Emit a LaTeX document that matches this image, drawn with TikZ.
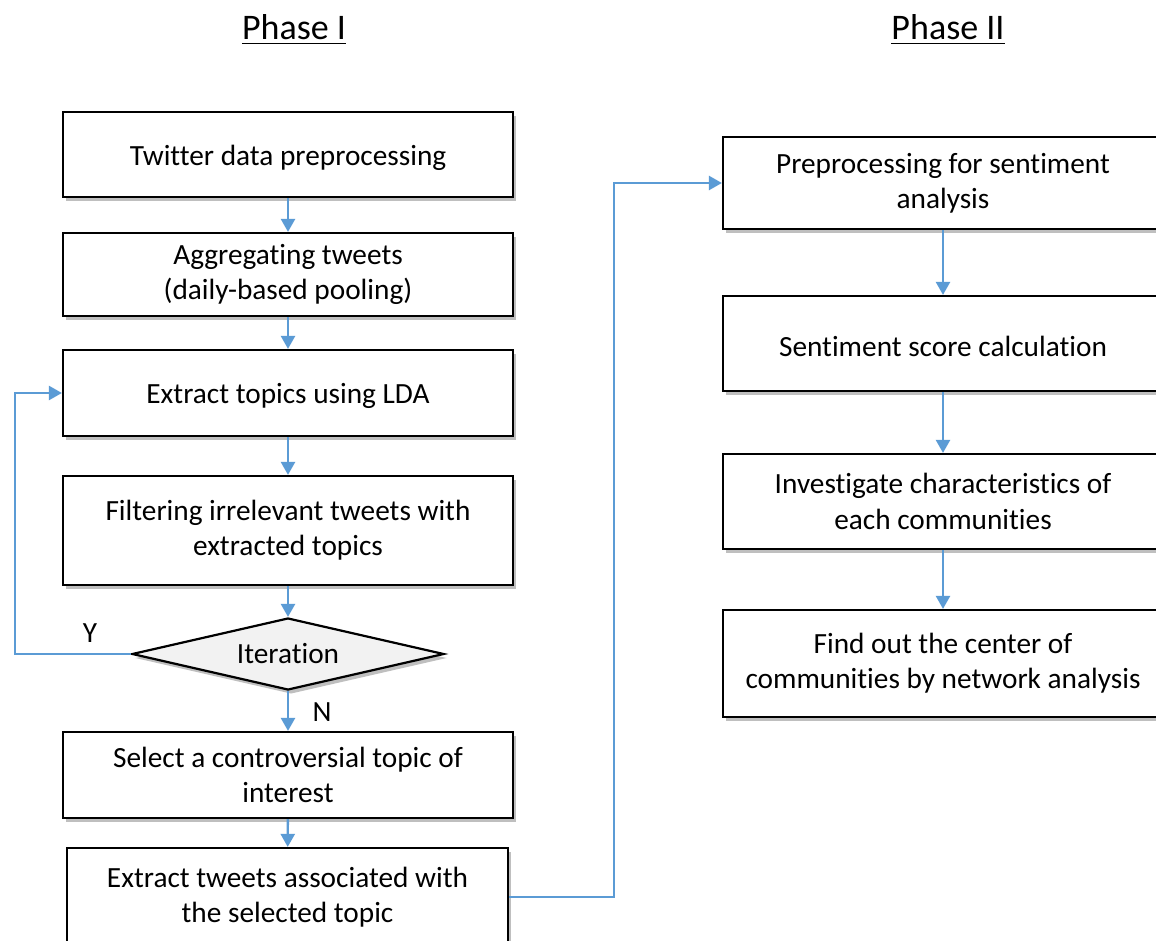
\documentclass[tikz,border=0pt]{standalone}
\usepackage{fontspec}
\setmainfont{Carlito}[Ligatures={NoCommon,NoRare,NoContextual},Contextuals={NoAlternate},RawFeature={-calt}]
\usetikzlibrary{shapes.geometric,arrows.meta,shadows}
\definecolor{flowblue}{HTML}{5B9BD5}
\definecolor{diafill}{HTML}{F2F2F2}
\tikzset{
  procbox/.style={draw=black, line width=2.2pt, fill=white, rectangle, align=center,
    inner sep=0pt, font=\fontsize{29.3}{35.2}\selectfont,
    execute at begin node={\rule{0pt}{27pt}},
    drop shadow={shadow xshift=3pt, shadow yshift=-4pt, fill=black!45, opacity=0.55}},
  decbox/.style={draw=black, line width=2.2pt, fill=diafill, diamond, aspect=4.33,
    inner sep=0pt, font=\fontsize{29.3}{35.2}\selectfont,
    minimum width=312pt, minimum height=72pt,
    drop shadow={shadow xshift=3pt, shadow yshift=-4pt, fill=black!45, opacity=0.55}},
  flow/.style={draw=flowblue, line width=2.4pt, -{Triangle[width=14pt,length=13pt]}},
  lbl/.style={font=\fontsize{29.3}{35.2}\selectfont, inner sep=0pt},
  ttl/.style={font=\fontsize{36}{40}\selectfont, inner sep=0pt}
}
\begin{document}
\begin{tikzpicture}[x=1pt,y=-1pt]
\useasboundingbox (0,0) rectangle (1156,941);
\fill[white] (0,0) rectangle (1156,941);
\clip (0,0) rectangle (1156,941);

% titles
\node[ttl] (t1) at (294,27) {Phase I};
\node[ttl] (t2) at (948,27) {Phase II};
\draw[line width=1.6pt] ([yshift=-4pt]t1.base west) -- ([yshift=-4pt]t1.base east);
\draw[line width=1.6pt] ([yshift=-4pt]t2.base west) -- ([yshift=-4pt]t2.base east);

% phase I
\node[procbox, minimum width=450pt, minimum height=85pt] (b1) at (288,154.5) {Twitter data preprocessing};
\node[procbox, minimum width=450pt, minimum height=83pt] (b2) at (288,274.5) {Aggregat\kern0pt ing tweets\\(daily-based pooling)};
\node[procbox, minimum width=450pt, minimum height=86pt] (b3) at (288,393) {Extract topics using LDA};
\node[procbox, minimum width=450pt, minimum height=109pt] (b4) at (288,530.5) {Filtering irrelevant tweets with\\extracted topics};
\node[decbox] (d1) at (288,654) {Iterat\kern0pt ion};
\node[procbox, minimum width=450pt, minimum height=86pt] (b5) at (288,775) {Select a controversial topic of\\interest};
\node[procbox, minimum width=441pt, minimum height=98pt] (b6) at (287.5,897) {Extract tweets associated with\\the selected topic};

% phase II
\node[procbox, minimum width=440pt, minimum height=92pt] (r1) at (943,183) {Preprocessing for sentiment\\analysis};
\node[procbox, minimum width=440pt, minimum height=95pt] (r2) at (943,343.5) {Sentiment score calculat\kern0pt ion};
\node[procbox, minimum width=440pt, minimum height=95pt] (r3) at (943,501.5) {Investigate characterist\kern0pt ics of\\each communit\kern0pt ies};
\node[procbox, minimum width=440pt, minimum height=107pt] (r4) at (943,663.5) {Find out the center of\\communit\kern0pt ies by network analysis};

% connectors
\draw[flow] (b1) -- (b2);
\draw[flow] (b2) -- (b3);
\draw[flow] (b3) -- (b4);
\draw[flow] (b4) -- (d1);
\draw[flow] (d1) -- (b5);
\draw[flow] (b5) -- (b6);
\coordinate (lp1) at (15,654);
\coordinate (lp2) at (15,393);
\draw[flow] (d1.west) -- (lp1) -- (lp2) -- (b3.west);
\coordinate (jp1) at (614,897);
\coordinate (jp2) at (614,183);
\draw[flow] (b6.east) -- (jp1) -- (jp2) -- (r1.west);
\draw[flow] (r1) -- (r2);
\draw[flow] (r2) -- (r3);
\draw[flow] (r3) -- (r4);

% labels
\node[lbl] (ly) at (90,633) {Y};
\node[lbl] (ln) at (322,712) {N};
\end{tikzpicture}
\end{document}
